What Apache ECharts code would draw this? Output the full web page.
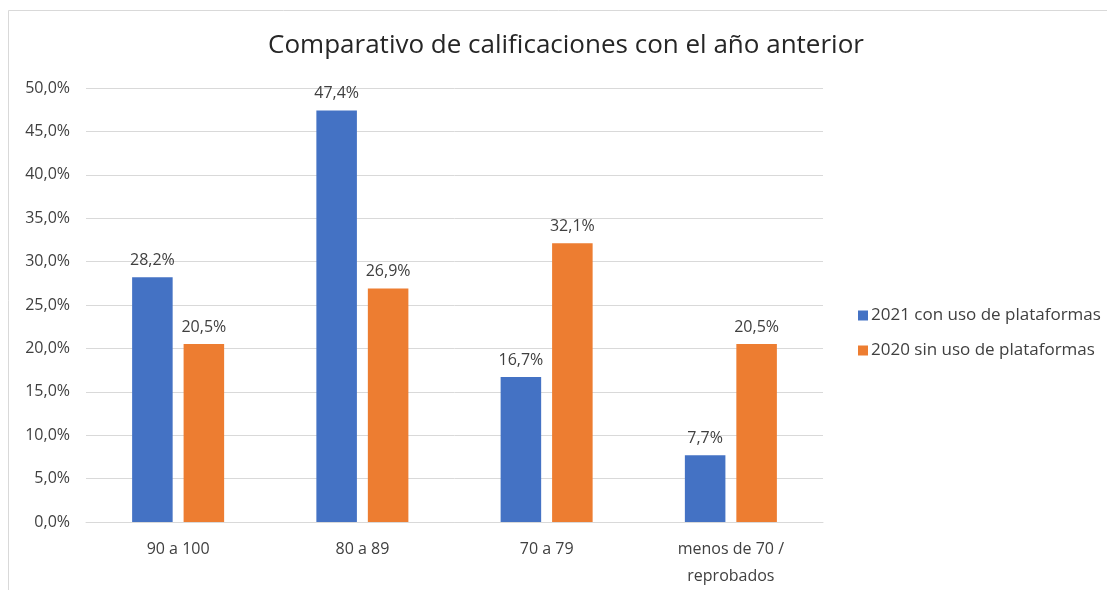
<!DOCTYPE html>
<html>
<head>
<meta charset="utf-8">
<script src="https://cdn.jsdelivr.net/npm/echarts@6/dist/echarts.min.js"></script>
<style>
  html, body { margin: 0; padding: 0; background: #fff; }
  #chart { width: 1107px; height: 590px; }
</style>
</head>
<body>
<div id="chart"></div>
<script>
var categories = ['90 a 100', '80 a 89', '70 a 79', 'menos de 70 /\nreprobados'];
var serie2021 = [28.2, 47.4, 16.7, 7.7];
var serie2020 = [20.5, 26.9, 32.1, 20.5];
var seriesNames = ['2021 con uso de plataformas', '2020 sin uso de plataformas'];

var fontFam = '"Open Sans", "Noto Sans", sans-serif';

function pct(v) {
  return v.toFixed(1).replace('.', ',') + '%';
}

var chart = echarts.init(document.getElementById('chart'));

var option = {
  backgroundColor: '#fff',
  animation: false,
  textStyle: { fontFamily: fontFam },
  graphic: [{
    type: 'rect',
    shape: { x: 8.5, y: 10.5, width: 1200, height: 700 },
    style: { fill: 'none', stroke: '#d9d9d9', lineWidth: 1 },
    silent: true
  }],
  title: {
    text: 'Comparativo de calificaciones con el año anterior',
    left: 561,
    top: 28,
    textAlign: 'center',
    textStyle: { fontSize: 26, fontWeight: 'normal', color: '#262626', fontFamily: fontFam }
  },
  legend: {
    orient: 'vertical',
    left: 853,
    top: 302,
    itemWidth: 10,
    itemHeight: 10,
    itemGap: 18,
    icon: 'rect',
    textStyle: { fontSize: 17, color: '#404040', fontFamily: fontFam, padding: [0, 0, 0, -2] },
    data: seriesNames
  },
  grid: { left: 86, right: 284, top: 88, bottom: 57 },
  xAxis: {
    type: 'category',
    data: categories,
    axisTick: { show: false },
    axisLine: { lineStyle: { color: '#d9d9d9', width: 1 } },
    axisLabel: { fontSize: 16, color: '#404040', margin: 14, lineHeight: 27, fontFamily: fontFam }
  },
  yAxis: {
    type: 'value',
    min: 0,
    max: 50,
    interval: 5,
    axisLine: { show: false },
    axisTick: { show: false },
    splitLine: { lineStyle: { color: '#d9d9d9', width: 1 } },
    axisLabel: {
      fontSize: 16, color: '#404040', margin: 16, fontFamily: fontFam,
      formatter: function (v) { return pct(v); }
    }
  },
  series: [{
    name: seriesNames[0],
    type: 'bar',
    data: serie2021,
    barWidth: '22%',
    barGap: '27%',
    itemStyle: { color: '#4472c4' },
    label: {
      show: true, position: 'top', distance: 9, fontSize: 16, color: '#404040', fontFamily: fontFam,
      formatter: function (p) { return pct(p.value); }
    }
  }, {
    name: seriesNames[1],
    type: 'bar',
    data: serie2020,
    barWidth: '22%',
    itemStyle: { color: '#ed7d31' },
    label: {
      show: true, position: 'top', distance: 9, fontSize: 16, color: '#404040', fontFamily: fontFam,
      formatter: function (p) { return pct(p.value); }
    }
  }]
};

chart.setOption(option);
</script>
</body>
</html>
